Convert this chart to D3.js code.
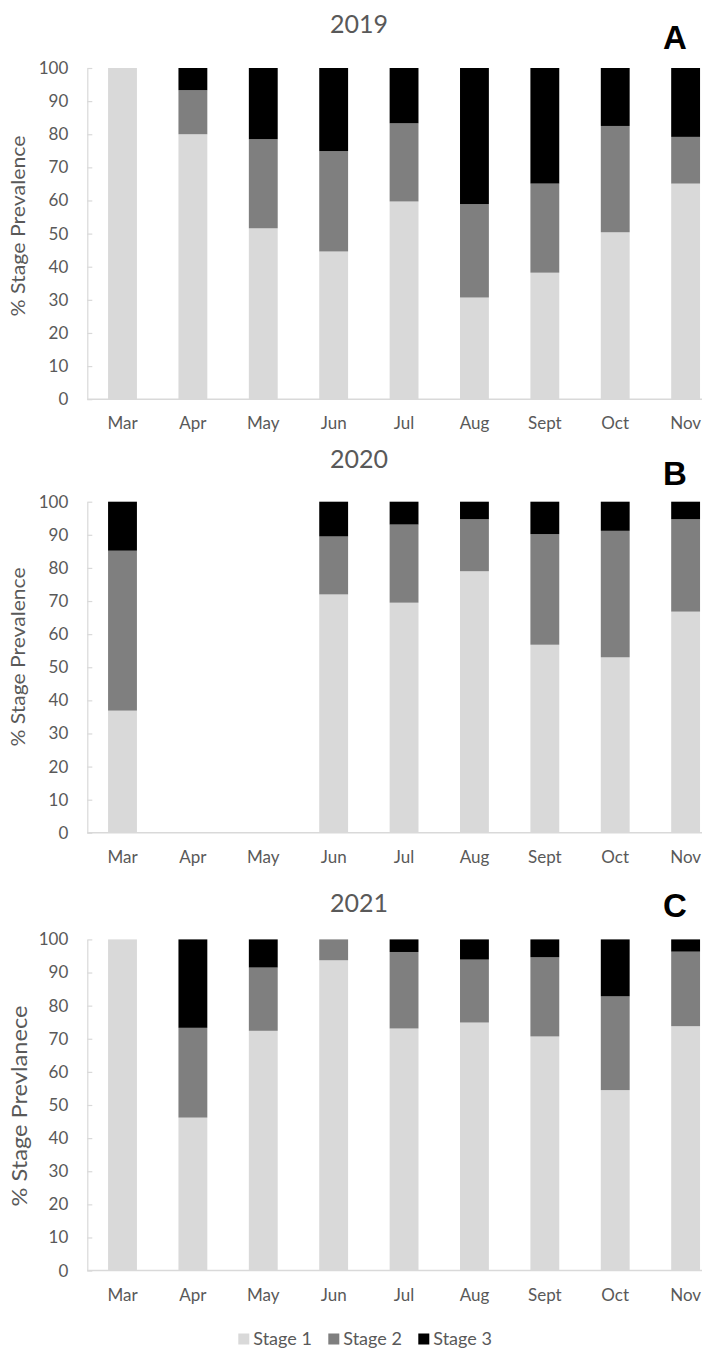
<!DOCTYPE html>
<html>
<head>
<meta charset="utf-8">
<script src="https://cdn.jsdelivr.net/npm/d3@7"></script>
<style>
  html, body { margin: 0; padding: 0; background: #ffffff; }
  svg { display: block; }
</style>
</head>
<body>
<svg id="chart" width="702" height="1349"></svg>
<script>
// ---------- Data ----------
const months = ["Mar", "Apr", "May", "Jun", "Jul", "Aug", "Sept", "Oct", "Nov"];
const stages = ["Stage 1", "Stage 2", "Stage 3"];
const yTicks = [0, 10, 20, 30, 40, 50, 60, 70, 80, 90, 100];

// 2019 (panel A)
const stage1_2019 = [100, 80.0, 51.6, 44.6, 59.7, 30.7, 38.2, 50.4, 65.1];
const stage2_2019 = [0, 13.3, 26.9, 30.3, 23.6, 28.2, 26.9, 32.1, 14.1];
const stage3_2019 = [0, 6.7, 21.5, 25.1, 16.7, 41.1, 34.9, 17.5, 20.8];

// 2020 (panel B) — no samples in Apr and May
const stage1_2020 = [36.9, null, null, 72.0, 69.5, 79.0, 56.8, 53.0, 66.8];
const stage2_2020 = [48.3, null, null, 17.5, 23.6, 15.7, 33.4, 38.2, 27.9];
const stage3_2020 = [14.8, null, null, 10.5, 6.9, 5.3, 9.8, 8.8, 5.3];

// 2021 (panel C)
const stage1_2021 = [100, 46.2, 72.4, 93.7, 73.1, 74.9, 70.7, 54.5, 73.8];
const stage2_2021 = [0, 27.1, 19.1, 6.3, 23.1, 19.0, 23.9, 28.3, 22.5];
const stage3_2021 = [0, 26.7, 8.5, 0, 3.8, 6.1, 5.4, 17.2, 3.7];

const panelTitles = ["2019", "2020", "2021"];
const panelLetters = ["A", "B", "C"];
const yLabels = ["% Stage Prevalence", "% Stage Prevalence", "% Stage Prevlanece"];

// ---------- Styling / layout ----------
const colors = ["#d9d9d9", "#7f7f7f", "#000000"];
const textColor = "#595959";
const axisColor = "#d9d9d9";
const baseFont = "Lato, 'Open Sans', 'DejaVu Sans', sans-serif";

const panels = [
  { s: [stage1_2019, stage2_2019, stage3_2019], top: 68.0, bottom: 399.2, titleY: 33, letterY: 49,
    yLabelX: 18.3, yLabelY: 226, yLabelLen: 181, yLabelSize: 20 },
  { s: [stage1_2020, stage2_2020, stage3_2020], top: 501.7, bottom: 832.8, titleY: 468, letterY: 485,
    yLabelX: 18.3, yLabelY: 657, yLabelLen: 179, yLabelSize: 20 },
  { s: [stage1_2021, stage2_2021, stage3_2021], top: 939.4, bottom: 1270.6, titleY: 912, letterY: 917,
    yLabelX: 19.2, yLabelY: 1106, yLabelLen: 201, yLabelSize: 22 }
];

const xLeft = 87.3, step = 70.39;
const svg = d3.select("#chart");

const x = d3.scaleBand()
  .domain(months)
  .range([xLeft, xLeft + step * months.length])
  .paddingInner(0.59)
  .paddingOuter(0.295);

panels.forEach((p, pi) => {
  const y = d3.scaleLinear().domain([0, 100]).range([p.bottom, p.top]);
  const g = svg.append("g");

  const rows = months.map((m, i) => ({
    month: m,
    "Stage 1": p.s[0][i], "Stage 2": p.s[1][i], "Stage 3": p.s[2][i]
  })).filter(r => r["Stage 1"] !== null);
  const stacked = d3.stack().keys(stages)(rows);

  // Axes
  const yAxis = d3.axisLeft(y).tickValues(yTicks).tickSizeInner(-5).tickSizeOuter(0).tickPadding(19);
  const yg = g.append("g").attr("transform", `translate(${xLeft},0)`).call(yAxis);
  yg.select(".domain").attr("stroke", axisColor).attr("stroke-width", 1.2);
  yg.selectAll(".tick line").attr("stroke", axisColor).attr("stroke-width", 1.2);
  yg.selectAll(".tick text").attr("fill", textColor).style("font-family", baseFont).style("font-size", "17px");

  const xAxis = d3.axisBottom(x).tickSize(0).tickPadding(18);
  const xg = g.append("g").attr("transform", `translate(0,${p.bottom})`).call(xAxis);
  xg.select(".domain").remove();
  xg.selectAll(".tick text").attr("fill", textColor).style("font-family", baseFont).style("font-size", "17px");
  g.append("line")
    .attr("x1", xLeft).attr("x2", 702)
    .attr("y1", p.bottom).attr("y2", p.bottom)
    .attr("stroke", axisColor).attr("stroke-width", 1.5);

  // Bars
  g.selectAll("g.layer").data(stacked).join("g")
    .attr("class", "layer")
    .attr("fill", (d, i) => colors[i])
    .selectAll("rect").data(d => d).join("rect")
    .attr("x", d => x(d.data.month))
    .attr("width", x.bandwidth())
    .attr("y", d => y(d[1]))
    .attr("height", d => Math.max(0, y(d[0]) - y(d[1])));

  // Title
  svg.append("text")
    .attr("x", 359).attr("y", p.titleY)
    .attr("text-anchor", "middle")
    .attr("fill", textColor)
    .style("font-family", baseFont).style("font-size", "25px")
    .text(panelTitles[pi]);

  // Panel letter
  svg.append("text")
    .attr("x", 675).attr("y", p.letterY)
    .attr("text-anchor", "middle")
    .attr("fill", "#000")
    .style("font-family", "'Liberation Sans', Arial, sans-serif")
    .style("font-weight", "bold").style("font-size", "33px")
    .text(panelLetters[pi]);

  // Y label
  svg.append("text")
    .attr("transform", `translate(${p.yLabelX},${p.yLabelY}) rotate(-90)`)
    .attr("text-anchor", "middle")
    .attr("dy", "0.35em")
    .attr("fill", textColor)
    .attr("textLength", p.yLabelLen)
    .attr("lengthAdjust", "spacingAndGlyphs")
    .style("font-family", baseFont).style("font-size", p.yLabelSize + "px")
    .text(yLabels[pi]);
});

// Legend
const legendX = [238.3, 328.3, 418.3];
const lg = svg.append("g");
stages.forEach((s, i) => {
  lg.append("rect")
    .attr("x", legendX[i]).attr("y", 1333.5)
    .attr("width", 11).attr("height", 11)
    .attr("fill", colors[i]);
  lg.append("text")
    .attr("x", legendX[i] + 15).attr("y", 1345)
    .attr("fill", textColor)
    .style("font-family", baseFont).style("font-size", "18px")
    .text(s);
});
</script>
</body>
</html>
